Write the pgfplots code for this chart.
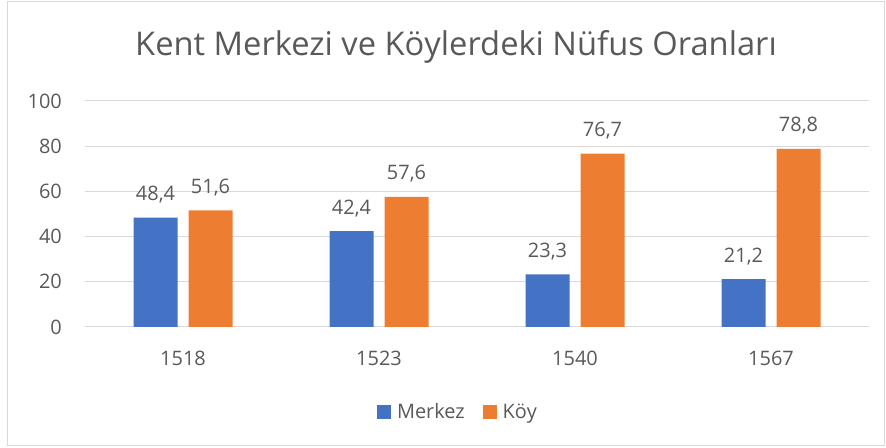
\documentclass[border=0pt]{standalone}
\usepackage{fontspec}
\setmainfont{Open Sans}
\usepackage{pgfplots}
\pgfplotsset{compat=1.18}
\definecolor{merkez}{HTML}{4472C4}
\definecolor{koy}{HTML}{ED7D31}
\definecolor{txt}{HTML}{595959}
\definecolor{grd}{HTML}{D9D9D9}
\begin{document}
\begin{tikzpicture}[x=1bp,y=1bp]
% page = 886 x 448, axis origin at image (85,327)
\path (-85,-121) rectangle (801,327);
\draw[grd,line width=1bp] (-77,-119) rectangle (799,325);
\node[text=txt,font=\fontsize{32.8}{38}\selectfont,anchor=base] at (371,271) {Kent Merkezi ve Köylerdeki Nüfus Oranları};
\begin{axis}[
  at={(0,0)}, anchor=south west,
  scale only axis, width=784bp, height=226bp,
  ybar=11bp, bar width=44bp,
  xmin=-0.5, xmax=3.5, ymin=0, ymax=100,
  xtick={0,1,2,3}, xticklabels={1518,1523,1540,1567},
  ytick={0,20,40,60,80,100},
  axis line style={draw=none},
  major tick length=0pt,
  ymajorgrids, grid style={grd,line width=1bp},
  tick label style={text=txt,font=\fontsize{20}{24}\selectfont,inner sep=0pt},
  /pgf/number format/assume math mode=true,
  yticklabel style={anchor=east,xshift=-23bp},
  xticklabel style={anchor=base,yshift=-39bp},
  nodes near coords,
  nodes near coords style={text=txt,font=\fontsize{20}{24}\selectfont,
    anchor=base,inner sep=0pt,yshift=17bp,
    /pgf/number format/use comma,/pgf/number format/fixed,
    /pgf/number format/precision=1,/pgf/number format/fixed zerofill},
  legend style={at={(0.4745,-0.376)},anchor=center,draw=none,
    font=\fontsize{20}{24}\selectfont,text=txt,
    legend columns=2,
    nodes={inner sep=0pt},
    /tikz/every odd column/.append style={column sep=6bp},
    /tikz/every even column/.append style={column sep=18bp}},
  legend image code/.code={\fill[#1,draw=none] (0bp,-7bp) rectangle (14bp,7bp);},
]
\addplot[fill=merkez,draw=none] coordinates {(0,48.4) (1,42.4) (2,23.3) (3,21.2)};
\addplot[fill=koy,draw=none] coordinates {(0,51.6) (1,57.6) (2,76.7) (3,78.8)};
\legend{Merkez,Köy}
\end{axis}
\end{tikzpicture}
\end{document}
